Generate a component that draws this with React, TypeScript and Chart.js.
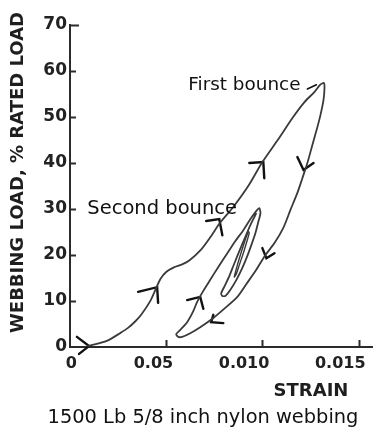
import React, { useEffect, useRef } from "react";
import { Chart, registerables } from "chart.js";

Chart.register(...registerables);

// ---- axes ----
const xTickValues = [0, 0.005, 0.01, 0.015];
const xTickLabels = ["0", "0.05", "0.010", "0.015"];
const yTickValues = [0, 10, 20, 30, 40, 50, 60, 70];
const yTickLabels = ["0", "10", "20", "30", "40", "50", "60", "70"];

// ---- hysteresis path (strain, % rated load) ----
const firstLoadX = [0.0009, 0.0015, 0.002, 0.0026, 0.003, 0.0034, 0.0037, 0.0042, 0.0045, 0.0047, 0.005, 0.0054, 0.0058, 0.0062, 0.0068, 0.0073, 0.0078, 0.0085, 0.0093, 0.01, 0.0108, 0.0116, 0.0122, 0.0127, 0.013, 0.0132];
const firstLoadY = [0.2, 0.8, 1.5, 3.0, 4.1, 5.6, 7.0, 10.2, 13.0, 14.8, 16.3, 17.3, 17.9, 18.8, 21.1, 23.9, 27.0, 30.5, 35.2, 40.2, 45.0, 50.0, 53.3, 55.4, 57.0, 57.4];

const firstUnloadX = [0.01323, 0.01318, 0.01302, 0.01286, 0.0126, 0.01234, 0.01208, 0.01182, 0.01146, 0.01109, 0.01063, 0.01016, 0.00964, 0.00917, 0.0087, 0.00807, 0.00745, 0.00677, 0.00625, 0.00583, 0.00563, 0.00552];
const firstUnloadY = [56.3, 53.7, 50.4, 47.8, 43.9, 40.0, 36.7, 33.5, 29.8, 25.9, 22.6, 20.0, 16.5, 13.7, 10.9, 8.5, 6.3, 4.3, 3.0, 2.2, 2.2, 2.8];

const secondLoadX = [0.00573, 0.00609, 0.00641, 0.00661, 0.00693, 0.00729, 0.00771, 0.00818, 0.00859, 0.00901, 0.00938, 0.00969, 0.00984];
const secondLoadY = [3.7, 5.4, 7.8, 9.8, 12.2, 14.6, 17.4, 20.4, 23.0, 25.4, 27.8, 29.6, 30.2];

const secondUnloadX = [0.0099, 0.00979, 0.00964, 0.00943, 0.00922, 0.00896, 0.00865, 0.00833, 0.00807, 0.00792];
const secondUnloadY = [29.1, 27.2, 24.8, 22.2, 19.8, 17.2, 14.6, 12.4, 11.1, 11.1];

const thirdLoadX = [0.00786, 0.00807, 0.00828, 0.00849, 0.0087, 0.00896, 0.00922, 0.00948, 0.00969];
const thirdLoadY = [11.7, 13.5, 15.4, 17.6, 19.8, 22.4, 25.0, 27.4, 29.1];

const innerLoopX = [0.00927, 0.00911, 0.00891, 0.0087, 0.00854, 0.00865, 0.0088, 0.00901, 0.00917, 0.00932, 0.00927];
const innerLoopY = [25.2, 23.3, 20.7, 17.8, 15.2, 15.9, 17.8, 20.4, 22.6, 24.8, 25.2];

// ---- hand-drawn arrowheads (arm, tip, arm) and leader ----
const arrowX = [
  [0.00036, 0.00099, 0.00047],
  [0.00354, 0.00453, 0.00458],
  [0.00708, 0.00776, 0.00792],
  [0.00932, 0.01005, 0.0101],
  [0.00609, 0.00677, 0.00693],
  [0.01182, 0.01214, 0.01266],
  [0.01, 0.01021, 0.01063],
  [0.00745, 0.00734, 0.00797],
  [0.01234, 0.01281],
];
const arrowY = [
  [2.2, 0.2, -1.5],
  [12.0, 13.0, 9.6],
  [27.4, 27.8, 24.3],
  [40.0, 40.2, 36.7],
  [10.2, 10.9, 8.3],
  [41.3, 38.5, 40.0],
  [21.5, 19.3, 20.4],
  [7.0, 5.4, 5.2],
  [56.1, 57.0],
];

// ---- annotations ----
const noteTexts = ["First bounce", "Second bounce"];
const noteX = [0.00615, 0.0009];
const noteY = [57.0, 30.0];

const yTitle = "WEBBING LOAD, % RATED LOAD";
const xTitle = "STRAIN";
const caption = "1500 Lb 5/8 inch nylon webbing";

const zip = (xs: number[], ys: number[]) => xs.map((x, i) => ({ x, y: ys[i] }));

const INK = "#2b2b2b";
const CURVE = "#3a3a3a";

const decorPlugin = {
  id: "decor",
  afterDraw(chart: any) {
    const { ctx, chartArea, scales } = chart;
    const xs = scales.x;
    const ys = scales.y;
    ctx.save();
    ctx.strokeStyle = INK;
    ctx.lineWidth = 2;
    ctx.lineCap = "butt";
    // inward y ticks
    yTickValues.forEach((v) => {
      if (v === 0) return;
      const py = Math.round(ys.getPixelForValue(v)) + 0.5;
      ctx.beginPath();
      ctx.moveTo(chartArea.left, py);
      ctx.lineTo(chartArea.left + (v === 70 ? 9 : 6), py);
      ctx.stroke();
    });
    // inward x ticks
    xTickValues.forEach((v) => {
      if (v === 0) return;
      const px = Math.round(xs.getPixelForValue(v)) + 0.5;
      ctx.beginPath();
      ctx.moveTo(px, chartArea.bottom);
      ctx.lineTo(px, chartArea.bottom - 7);
      ctx.stroke();
    });

    ctx.fillStyle = "#1e1e1e";
    // y title
    ctx.save();
    ctx.translate(18.5, 172.5);
    ctx.rotate(-Math.PI / 2);
    ctx.font = "bold 18px 'DejaVu Sans'";
    ctx.textAlign = "center";
    ctx.textBaseline = "middle";
    ctx.fillText(yTitle, 0, 0);
    ctx.restore();

    // x title
    ctx.font = "bold 18px 'DejaVu Sans'";
    ctx.textAlign = "center";
    ctx.textBaseline = "middle";
    ctx.fillText(xTitle, 311, 391);

    // caption
    ctx.font = "19.4px 'DejaVu Sans'";
    ctx.fillStyle = "#111";
    ctx.fillText(caption, 203, 418);

    // annotations
    const sizes = [18.4, 19.5];
    noteTexts.forEach((t, i) => {
      ctx.font = `${sizes[i]}px 'DejaVu Sans'`;
      ctx.textAlign = "left";
      ctx.textBaseline = "middle";
      ctx.fillText(t, xs.getPixelForValue(noteX[i]), ys.getPixelForValue(noteY[i]));
    });
    ctx.restore();
  },
};

export default function App() {
  const ref = useRef<HTMLCanvasElement>(null);
  useEffect(() => {
    const canvas = ref.current;
    if (!canvas) return;
    const path = [
      ...zip(firstLoadX, firstLoadY),
      ...zip(firstUnloadX, firstUnloadY),
      ...zip(secondLoadX, secondLoadY),
      ...zip(secondUnloadX, secondUnloadY),
      ...zip(thirdLoadX, thirdLoadY),
    ];
    const datasets: any[] = [
      {
        label: "hysteresis",
        data: path,
        showLine: true,
        borderColor: CURVE,
        borderWidth: 1.8,
        pointRadius: 0,
        tension: 0.25,
        fill: false,
      },
      {
        label: "third bounce",
        data: zip(innerLoopX, innerLoopY),
        showLine: true,
        borderColor: CURVE,
        borderWidth: 1.4,
        pointRadius: 0,
        tension: 0.2,
        fill: false,
      },
      ...arrowX.map((xs, i) => ({
        label: "arrow" + i,
        data: zip(xs, arrowY[i]),
        showLine: true,
        borderColor: "#111",
        borderWidth: i === arrowX.length - 1 ? 1.6 : 2.4,
        pointRadius: 0,
        tension: 0,
        fill: false,
        clip: false,
        borderCapStyle: "round",
        borderJoinStyle: "miter",
      })),
    ];
    const chart = new Chart(canvas, {
      type: "scatter",
      data: { datasets },
      options: {
        responsive: false,
        animation: false,
        devicePixelRatio: 1,
        layout: { padding: { top: 25, right: 1, left: 0, bottom: 0 } },
        plugins: {
          legend: { display: false },
          tooltip: { enabled: false },
          title: { display: false },
        },
        scales: {
          x: {
            type: "linear",
            min: 0,
            max: 0.0157,
            afterBuildTicks: (s: any) => {
              s.ticks = xTickValues.map((v) => ({ value: v }));
            },
            afterFit: (s: any) => {
              s.height = 80;
            },
            grid: { display: false, drawTicks: false },
            border: { display: true, color: INK, width: 2 },
            ticks: {
              align: "end",
              labelOffset: 7,
              padding: 7,
              color: "#222",
              font: { family: "'DejaVu Sans'", size: 16, weight: "bold" },
              callback: (_v: any, i: number) => xTickLabels[i],
            },
          },
          y: {
            type: "linear",
            min: 0,
            max: 70,
            afterBuildTicks: (s: any) => {
              s.ticks = yTickValues.map((v) => ({ value: v }));
            },
            afterFit: (s: any) => {
              s.width = 70;
            },
            grid: { display: false, drawTicks: false },
            border: { display: true, color: INK, width: 2 },
            ticks: {
              padding: 3,
              color: "#222",
              font: { family: "'DejaVu Sans'", size: 17, weight: "bold" },
              callback: (_v: any, i: number) => yTickLabels[i],
            },
          },
        },
      } as any,
      plugins: [decorPlugin],
    });
    return () => chart.destroy();
  }, []);
  return (
    <div style={{ position: "fixed", left: 0, top: 0, width: 373, height: 427, background: "#fff" }}>
      <canvas ref={ref} width={373} height={427} style={{ display: "block" }} />
    </div>
  );
}
